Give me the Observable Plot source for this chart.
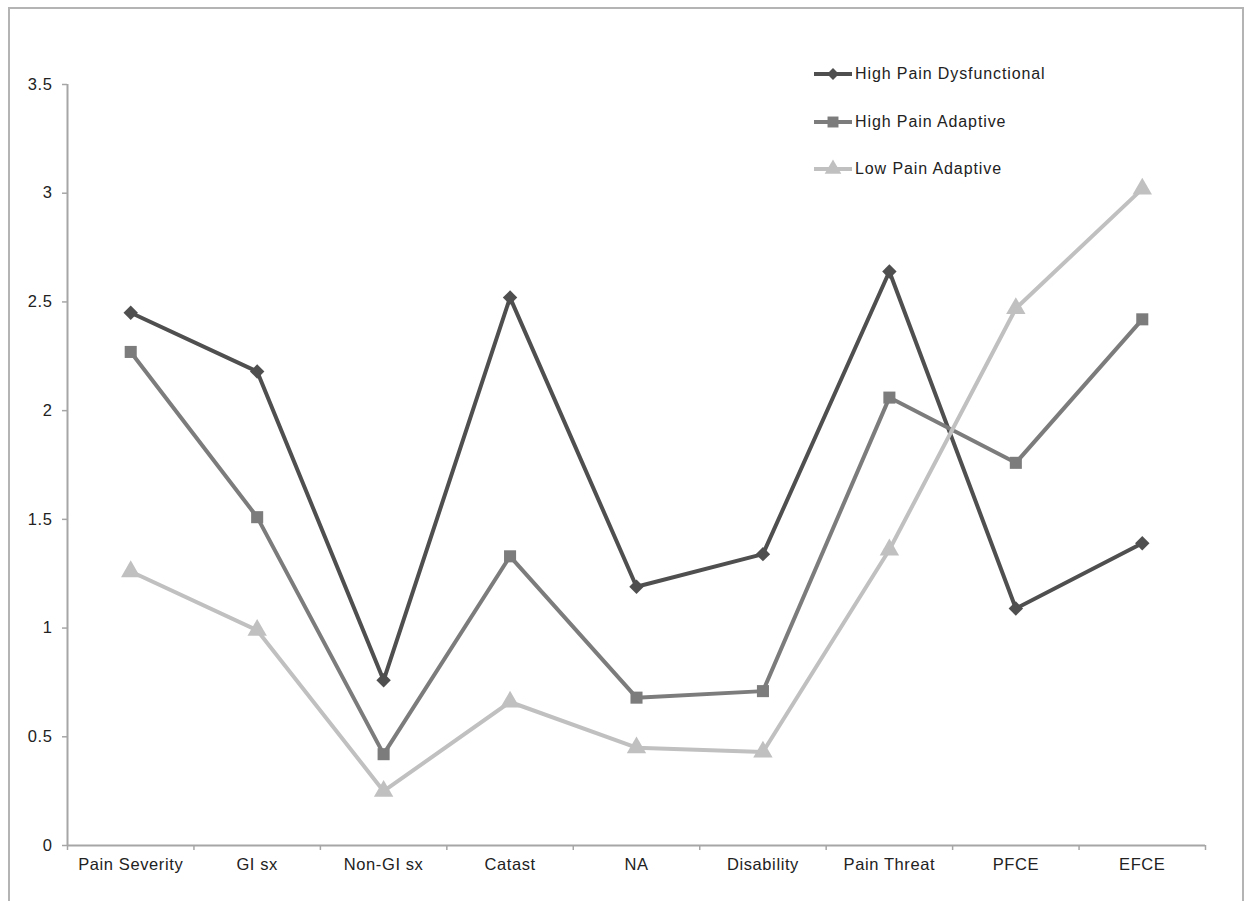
<!DOCTYPE html>
<html>
<head>
<meta charset="utf-8">
<script src="https://cdn.jsdelivr.net/npm/d3@7"></script>
<script src="https://cdn.jsdelivr.net/npm/@observablehq/plot@0.6"></script>
<style>
  html, body { margin: 0; padding: 0; background: #fff; overflow: hidden; }
  #wrap { position: relative; width: 1248px; height: 901px; }
  #border { position: absolute; left: 8px; top: 7px; width: 1232px; height: 920px;
            border: 2px solid #b4b4b4; pointer-events: none; }
  #legend { position: absolute; left: 814px; top: 62px; font-family: "Liberation Sans", Arial, sans-serif;
            font-size: 16px; color: #222; letter-spacing: 0.9px; }
  #legend .row { display: flex; align-items: center; height: 24px; margin-bottom: 23.5px; }
  #legend svg { margin-right: 3px; }
  #chart svg text { letter-spacing: 0.6px; }
</style>
</head>
<body>
<div id="wrap">
  <div id="chart"></div>
  <div id="legend"></div>
  <div id="border"></div>
</div>
<script>
const categories = ["Pain Severity", "GI sx", "Non-GI sx", "Catast", "NA", "Disability", "Pain Threat", "PFCE", "EFCE"];
const seriesNames = ["High Pain Dysfunctional", "High Pain Adaptive", "Low Pain Adaptive"];
const highPainDysfunctional = [2.45, 2.18, 0.76, 2.52, 1.19, 1.34, 2.64, 1.09, 1.39];
const highPainAdaptive = [2.27, 1.51, 0.42, 1.33, 0.68, 0.71, 2.06, 1.76, 2.42];
const lowPainAdaptive = [1.26, 0.99, 0.25, 0.66, 0.45, 0.43, 1.36, 2.47, 3.02];
const yTicks = [0, 0.5, 1, 1.5, 2, 2.5, 3, 3.5];
const seriesColors = ["#4f4f4f", "#7c7c7c", "#c0c0c0"];
const seriesSymbols = ["diamond2", "square", "triangle"];

const seriesValues = [highPainDysfunctional, highPainAdaptive, lowPainAdaptive];
const rows = [];
seriesNames.forEach((name, s) => {
  categories.forEach((c, i) => rows.push({series: name, s, cat: c, idx: i, value: seriesValues[s][i]}));
});

const axisColor = "#a6a6a6";
const textColor = "#222";

const marks = [
  Plot.ruleX([0], {stroke: axisColor, strokeWidth: 2}),
  Plot.ruleY([0], {stroke: axisColor, strokeWidth: 2}),
  Plot.axisY({ticks: yTicks, tickFormat: d => String(d), tickSize: 5, tickPadding: 10,
              stroke: axisColor, fill: textColor, strokeWidth: 1.5, label: null}),
  Plot.axisX({ticks: d3.range(categories.length + 1), tickFormat: () => "", tickSize: 5,
              stroke: axisColor, strokeWidth: 1.5, label: null}),
  Plot.axisX({ticks: d3.range(categories.length).map(i => i + 0.5), tickFormat: v => categories[Math.floor(v)],
              tickSize: 0, tickPadding: 13, fill: textColor, label: null})
];
seriesNames.forEach((name, s) => {
  const data = rows.filter(r => r.s === s);
  marks.push(Plot.line(data, {x: d => d.idx + 0.5, y: "value", stroke: seriesColors[s], strokeWidth: 4}));
  marks.push(Plot.dot(data, {x: d => d.idx + 0.5, y: "value", symbol: seriesSymbols[s], fill: seriesColors[s],
                             stroke: "none", r: s === 0 ? 6.5 : s === 1 ? 6.8 : 7.2}));
});

const plot = Plot.plot({
  width: 1248,
  height: 901,
  marginLeft: 67,
  marginRight: 43,
  marginTop: 84,
  marginBottom: 56,
  x: {type: "linear", domain: [0, categories.length], axis: null},
  y: {domain: [0, 3.5], axis: null},
  style: {fontFamily: "'Liberation Sans', Arial, sans-serif", fontSize: "16.5px", background: "white", color: textColor},
  marks
});
document.getElementById("chart").appendChild(plot);

// legend
const legend = d3.select("#legend");
seriesNames.forEach((name, s) => {
  const row = legend.append("div").attr("class", "row");
  const svg = row.append("svg").attr("width", 38).attr("height", 24);
  svg.append("line").attr("x1", 0).attr("x2", 38).attr("y1", 12).attr("y2", 12)
    .attr("stroke", seriesColors[s]).attr("stroke-width", 4);
  const sym = {diamond2: d3.symbolDiamond2, square: d3.symbolSquare, triangle: d3.symbolTriangle}[seriesSymbols[s]];
  const size = s === 0 ? 90 : 120;
  svg.append("path").attr("d", d3.symbol(sym, size)()).attr("transform", "translate(19,12)")
    .attr("fill", seriesColors[s]);
  row.append("span").text(name);
});
</script>
</body>
</html>
